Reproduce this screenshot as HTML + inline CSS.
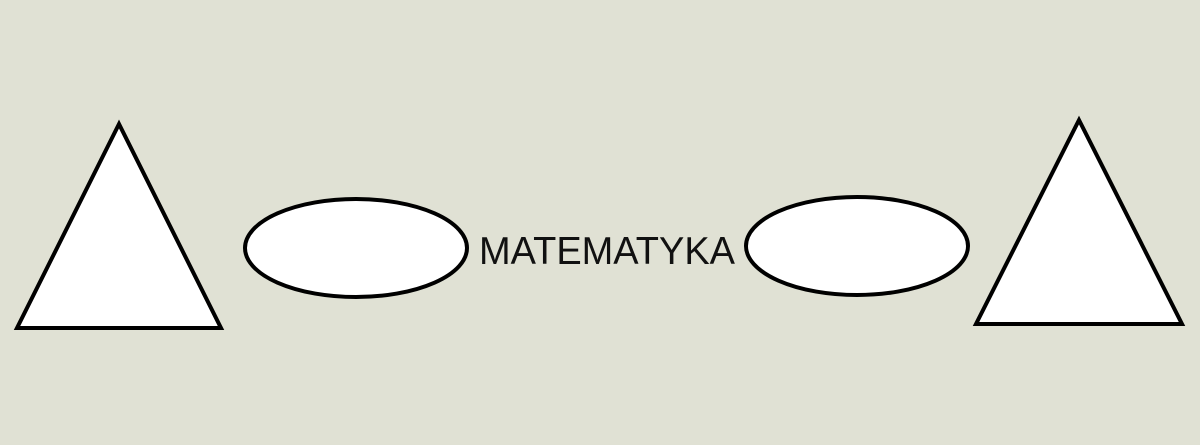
<!DOCTYPE html>
<html><head><meta charset="utf-8"><style>
html,body{margin:0;padding:0;background:#e0e1d4;}
svg{display:block}
</style></head><body>
<svg width="1200" height="445" viewBox="0 0 1200 445">
<rect width="1200" height="445" fill="#e0e1d4"/>
<polygon points="119,124 17,328 221,328" fill="#fff" stroke="#000" stroke-width="4" stroke-linejoin="miter"/>
<polygon points="1079,120 976,324 1182,324" fill="#fff" stroke="#000" stroke-width="4" stroke-linejoin="miter"/>
<ellipse cx="356" cy="248" rx="111" ry="49" fill="#fff" stroke="#000" stroke-width="4"/>
<ellipse cx="857" cy="246" rx="111" ry="49" fill="#fff" stroke="#000" stroke-width="4"/>
<text x="479" y="264" font-family="Liberation Sans, sans-serif" font-size="39" fill="#111" textLength="256" lengthAdjust="spacingAndGlyphs">MATEMATYKA</text>
</svg>
</body></html>
